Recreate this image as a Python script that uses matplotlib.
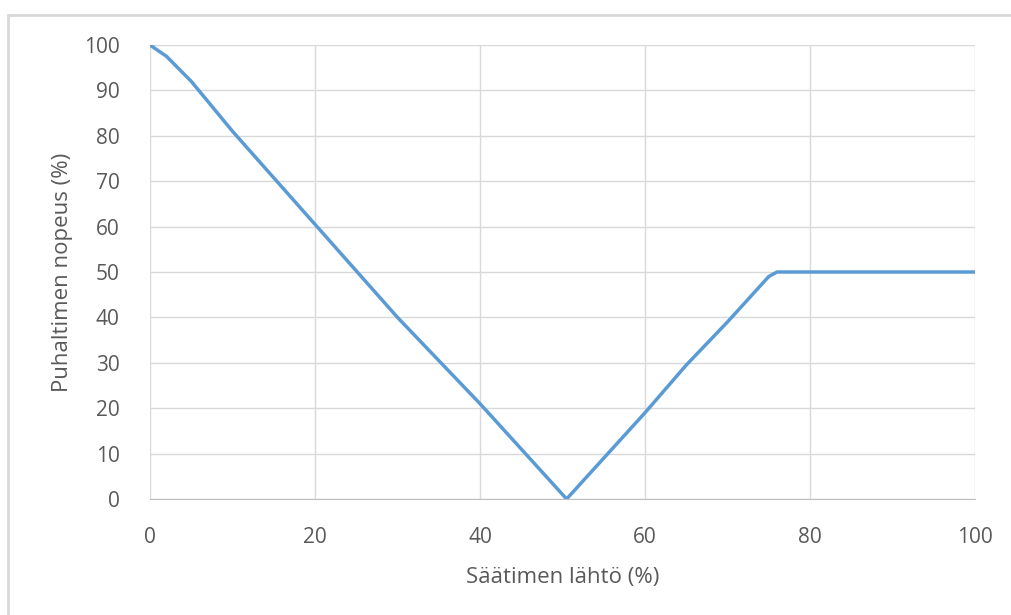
import matplotlib
matplotlib.use("Agg")
import matplotlib.pyplot as plt
from matplotlib.lines import Line2D

# controller output (%) vs fan speed (%)
ctrl_out = [0, 2, 5, 10, 20, 30, 40, 45, 50.5, 55, 60, 65, 70, 74, 75, 76, 80, 90, 100]
fan_speed = [100, 97.5, 92, 81, 60.5, 40, 21, 11, 0, 9, 19, 29.5, 39, 47, 49, 50, 50, 50, 50]

x_ticks = [0, 20, 40, 60, 80, 100]
y_ticks = list(range(0, 101, 10))

TXT = "#595959"
GRID = "#D9D9D9"
LINE = "#5B9BD5"

plt.rcParams["font.family"] = ["Open Sans", "DejaVu Sans"]

fig = plt.figure(figsize=(10.11, 6.15), dpi=100)
ax = fig.add_axes([150 / 1011, 1 - 499 / 615, 825 / 1011, 454 / 615])

ax.plot(ctrl_out, fan_speed, color=LINE, lw=2.5, solid_joinstyle="round")

ax.set_xlim(0, 100)
ax.set_ylim(0, 100)
ax.set_xticks(x_ticks)
ax.set_yticks(y_ticks)
ax.grid(True, color=GRID, lw=1)
ax.set_axisbelow(True)
for side in ["top", "right", "left"]:
    ax.spines[side].set_visible(False)
ax.spines["bottom"].set_color("#BFBFBF")
ax.tick_params(length=0, colors=TXT, labelsize=15)
ax.tick_params(axis="x", pad=20)
ax.tick_params(axis="y", pad=22)

ax.set_xlabel("Säätimen lähtö (%)", fontsize=16, color=TXT, labelpad=14)
ax.set_ylabel("Puhaltimen nopeus (%)", fontsize=16, color=TXT, labelpad=8)

# outer chart border (only top and left visible in the crop)
fig.add_artist(Line2D([8 / 1011, 1], [1 - 15 / 615, 1 - 15 / 615], color="#D9D9D9", lw=2,
                      transform=fig.transFigure))
fig.add_artist(Line2D([8 / 1011, 8 / 1011], [0, 1 - 15 / 615], color="#D9D9D9", lw=2,
                      transform=fig.transFigure))

fig.savefig("out.png", dpi=100)
